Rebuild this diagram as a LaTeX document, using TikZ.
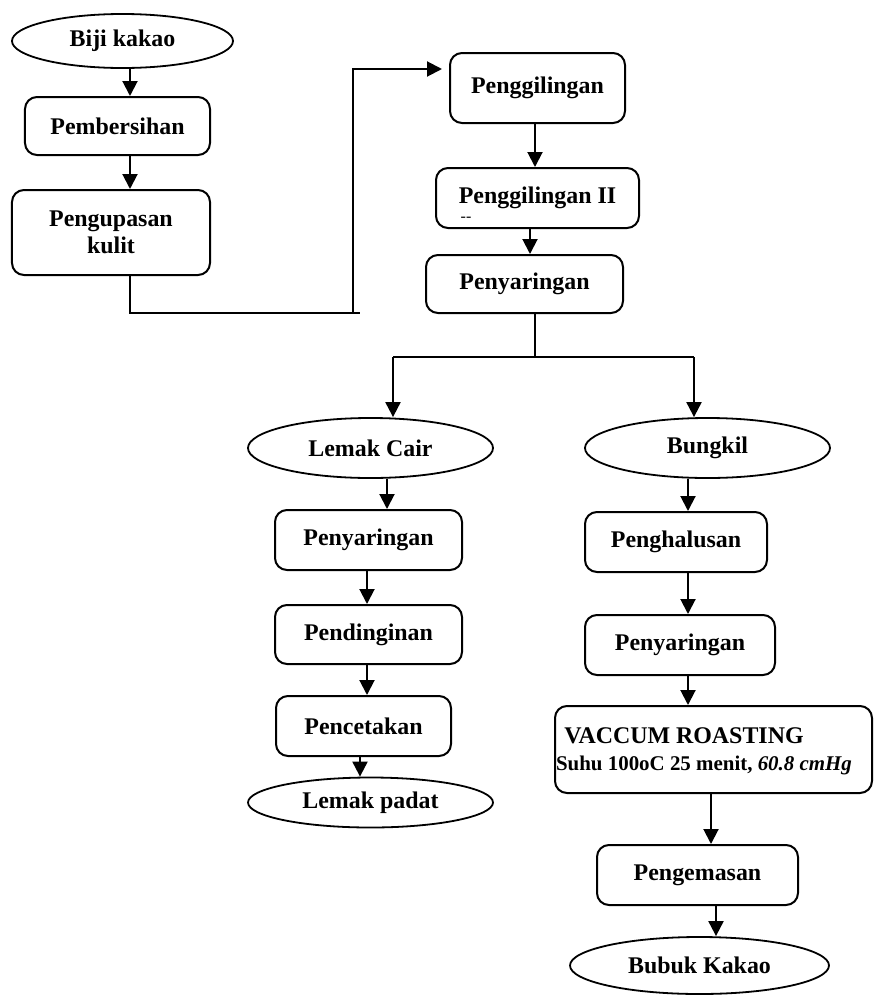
\documentclass[tikz,border=0pt]{standalone}
\usepackage{fontspec}
\setmainfont{Liberation Serif}
\usetikzlibrary{shapes.geometric,arrows.meta}
\begin{document}
\begin{tikzpicture}[x=1bp,y=-1bp,
  every node/.style={font=\bfseries\fontsize{24}{27}\selectfont},
  box/.style={draw, line width=2bp, rounded corners=12bp, inner sep=0pt, align=center},
  oval/.style={draw, ellipse, line width=1.8bp, inner sep=0pt},
  conn/.style={line width=2bp},
  arr/.style={conn, -{Triangle[width=15bp,length=15bp]}},
]
\useasboundingbox (0,0) rectangle (874,997);

% left column
\node[oval, minimum width=221bp, minimum height=54bp] (biji) at (122.5,41) {Biji kakao};
\node[box, minimum width=185bp, minimum height=58bp] (pemb) at (117.5,126) {Pembersihan};
\node[box, minimum width=198bp, minimum height=85bp] (kupas) at (111,232.5) {Pengupasan\\kulit};

% middle column
\node[box, minimum width=175bp, minimum height=70bp] (ggl1) at (537.5,88) {\raisebox{5bp}{Penggilingan}};
\node[box, minimum width=203bp, minimum height=60bp] (ggl2) at (537.5,198) {\raisebox{6bp}{Penggilingan II}};
\node[font=\fontsize{16}{16}\selectfont, inner sep=0pt] (dash) at (466,219) {-{}-};
\node[box, minimum width=197bp, minimum height=58bp] (sar1) at (524.5,284) {Penyaringan};

% lemak branch
\node[oval, minimum width=245bp, minimum height=60bp] (cair) at (370.5,448) {Lemak Cair};
\node[box, minimum width=187bp, minimum height=60bp] (sarL) at (368.5,540) {Penyaringan};
\node[box, minimum width=187bp, minimum height=59bp] (ding) at (368.5,634.5) {Pendinginan};
\node[box, minimum width=175bp, minimum height=60bp] (cetak) at (363.5,726) {Pencetakan};
\node[oval, minimum width=245bp, minimum height=50bp] (padat) at (370.5,802.5) {Lemak padat};

% bungkil branch
\node[oval, minimum width=245bp, minimum height=60bp] (bungkil) at (707.5,448) {Bungkil};
\node[box, minimum width=182bp, minimum height=60bp] (halus) at (676,542) {Penghalusan};
\node[box, minimum width=190bp, minimum height=60bp] (sarR) at (680,645) {Penyaringan};
\node[box, minimum width=317bp, minimum height=87bp] (vac) at (713.5,749.5) {};
\node (vac1) at (684,736) {VACCUM ROASTING};
\node[font=\bfseries\fontsize{21}{24}\selectfont] (vac2) at (704,765) {Suhu 100oC 25 menit, {\itshape 60.8 cmHg}};
\node[box, minimum width=201bp, minimum height=60bp] (kemas) at (697.5,875) {Pengemasan};
\node[oval, minimum width=259bp, minimum height=57bp] (bubuk) at (699.5,965.5) {Bubuk Kakao};

% connectors
\draw[arr] (biji.south -| 130,0) -- (pemb.north -| 130,0);
\draw[arr] (pemb.south -| 130,0) -- (kupas.north -| 130,0);

\coordinate (k1) at (130,313);
\coordinate (k2) at (360,313);
\coordinate (k3) at (353,313);
\coordinate (k4) at (353,69);
\draw[conn] (kupas.south -| 130,0) -- (k1) -- (k2);
\draw[arr, shorten >=7bp] (k3) -- (k4) -- (ggl1.west |- k4);

\draw[arr] (ggl1.south -| 535,0) -- (ggl2.north -| 535,0);
\draw[arr] (ggl2.south -| 530,0) -- (sar1.north -| 530,0);

\coordinate (s0) at (535,357);
\coordinate (sl) at (393,357);
\coordinate (sr) at (694,357);
\draw[conn] (sar1.south -| s0) -- (s0);
\draw[conn] (sl) -- (sr);
\draw[arr] (sl) -- (cair.north -| sl);
\draw[arr] (sr) -- (bungkil.north -| sr);

\draw[arr] (cair.south -| 387,0) -- (sarL.north -| 387,0);
\draw[arr] (sarL.south -| 367,0) -- (ding.north -| 367,0);
\draw[arr] (ding.south -| 367,0) -- (cetak.north -| 367,0);
\draw[arr] (cetak.south -| 360,0) -- (padat.north -| 360,0);

\draw[arr] (bungkil.south -| 688,0) -- (halus.north -| 688,0);
\draw[arr] (halus.south -| 688,0) -- (sarR.north -| 688,0);
\draw[arr] (sarR.south -| 688,0) -- (vac.north -| 688,0);
\draw[arr] (vac.south -| 711,0) -- (kemas.north -| 711,0);
\draw[arr] (kemas.south -| 716,0) -- (bubuk.north -| 716,0);
\end{tikzpicture}
\end{document}
